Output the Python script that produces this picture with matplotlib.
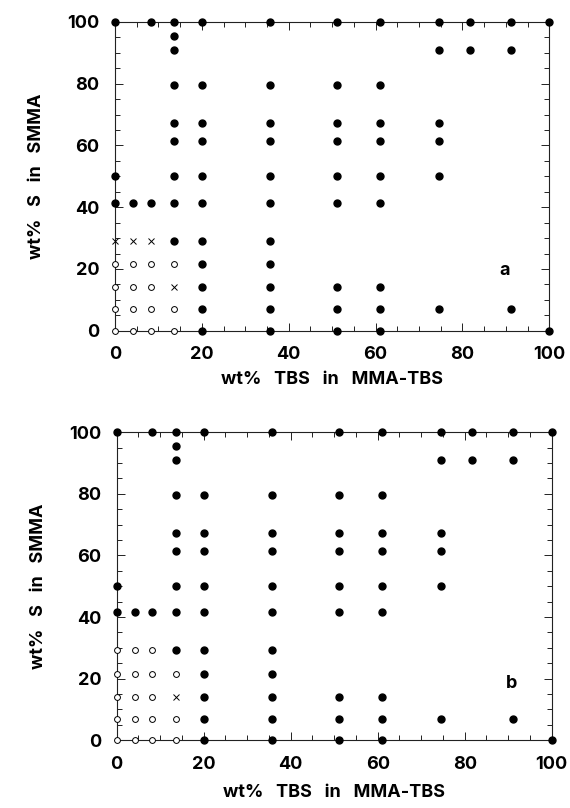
import matplotlib
matplotlib.use('Agg')
import matplotlib.pyplot as plt
from matplotlib.ticker import MultipleLocator

plt.rcParams['font.family'] = ['Inter', 'Liberation Sans', 'DejaVu Sans']
plt.rcParams['font.weight'] = 'bold'

# ---- data: wt% TBS (x) listed for each wt% S level (y) ----
# filled circles (same in both panels)
filled_rows = {
    100.0: [0, 8.2, 13.6, 20, 35.7, 51.2, 61, 74.5, 81.7, 91.1, 100],
    95.6: [13.6],
    90.9: [13.6, 74.5, 81.7, 91.1],
    79.6: [13.6, 20, 35.7, 51.2, 61],
    67.4: [13.6, 20, 35.7, 51.2, 61, 74.5],
    61.4: [13.6, 20, 35.7, 51.2, 61, 74.5],
    50.0: [0, 13.6, 20, 35.7, 51.2, 61, 74.5],
    41.5: [0, 4.2, 8.2, 13.6, 20, 35.7, 51.2, 61],
    29.2: [13.6, 20, 35.7],
    21.6: [20, 35.7],
    14.1: [20, 35.7, 51.2, 61],
    6.9: [20, 35.7, 51.2, 61, 74.5, 91.1],
    0.0: [20, 35.7, 51.2, 61, 100],
}
# panel a
open_rows_a = {
    21.6: [0, 4.2, 8.2, 13.6],
    14.1: [0, 4.2, 8.2],
    6.9: [0, 4.2, 8.2, 13.6],
    0.0: [0, 4.2, 8.2, 13.6],
}
cross_rows_a = {
    29.2: [0, 4.2, 8.2],
    14.1: [13.6],
}
# panel b
open_rows_b = {
    29.2: [0, 4.2, 8.2],
    21.6: [0, 4.2, 8.2, 13.6],
    14.1: [0, 4.2, 8.2],
    6.9: [0, 4.2, 8.2, 13.6],
    0.0: [0, 4.2, 8.2, 13.6],
}
cross_rows_b = {
    14.1: [13.6],
}

ticks = [0, 20, 40, 60, 80, 100]
xlabel = 'wt%   TBS   in   MMA-TBS'
ylabel = 'wt%   S   in   SMMA'


def expand(rows):
    xs, ys = [], []
    for y, xlist in rows.items():
        for x in xlist:
            xs.append(x)
            ys.append(y)
    return xs, ys


fig = plt.figure(figsize=(5.7, 8.08), dpi=100)
ax_a = fig.add_axes([0.2018, 0.5907, 0.7619, 0.3821])
ax_b = fig.add_axes([0.2047, 0.0838, 0.7633, 0.3812])

panels = [(ax_a, open_rows_a, cross_rows_a, 'a', (89.8, 19.5), 6),
          (ax_b, open_rows_b, cross_rows_b, 'b', (90.7, 18.5), 8)]

FS = 13
for ax, orows, crows, tag, tpos, xpad in panels:
    fx, fy = expand(filled_rows)
    ox, oy = expand(orows)
    cx, cy = expand(crows)
    ax.plot(fx, fy, 'o', ms=5.0, color='black', mec='black', clip_on=False, zorder=4, ls='none')
    ax.plot(ox, oy, 'o', ms=4.2, mfc='white', mec='black', mew=0.7, clip_on=False, zorder=4, ls='none')
    ax.plot(cx, cy, 'x', ms=4.2, color='black', mew=0.7, clip_on=False, zorder=4, ls='none')
    ax.set_xlim(0, 100)
    ax.set_ylim(0, 100)
    ax.set_xticks(ticks)
    ax.set_yticks(ticks)
    ax.xaxis.set_minor_locator(MultipleLocator(5))
    ax.yaxis.set_minor_locator(MultipleLocator(5))
    ax.tick_params(which='both', direction='in', top=True, right=True,
                   width=0.7, color='#222222')
    ax.tick_params(which='major', length=5.5, labelsize=FS, pad=11)
    ax.tick_params(which='minor', length=3.5)
    for lab in ax.get_xticklabels() + ax.get_yticklabels():
        lab.set_fontweight('bold')
    for sp in ax.spines.values():
        sp.set_linewidth(0.8)
        sp.set_color('#222222')
    ax.set_xlabel(xlabel, fontsize=FS, fontweight='bold', labelpad=xpad)
    ax.set_ylabel(ylabel, fontsize=FS, fontweight='bold', labelpad=16)
    ax.text(tpos[0], tpos[1], tag, ha='center', va='center', fontsize=FS, fontweight='bold')

fig.savefig('out.png', dpi=100)
